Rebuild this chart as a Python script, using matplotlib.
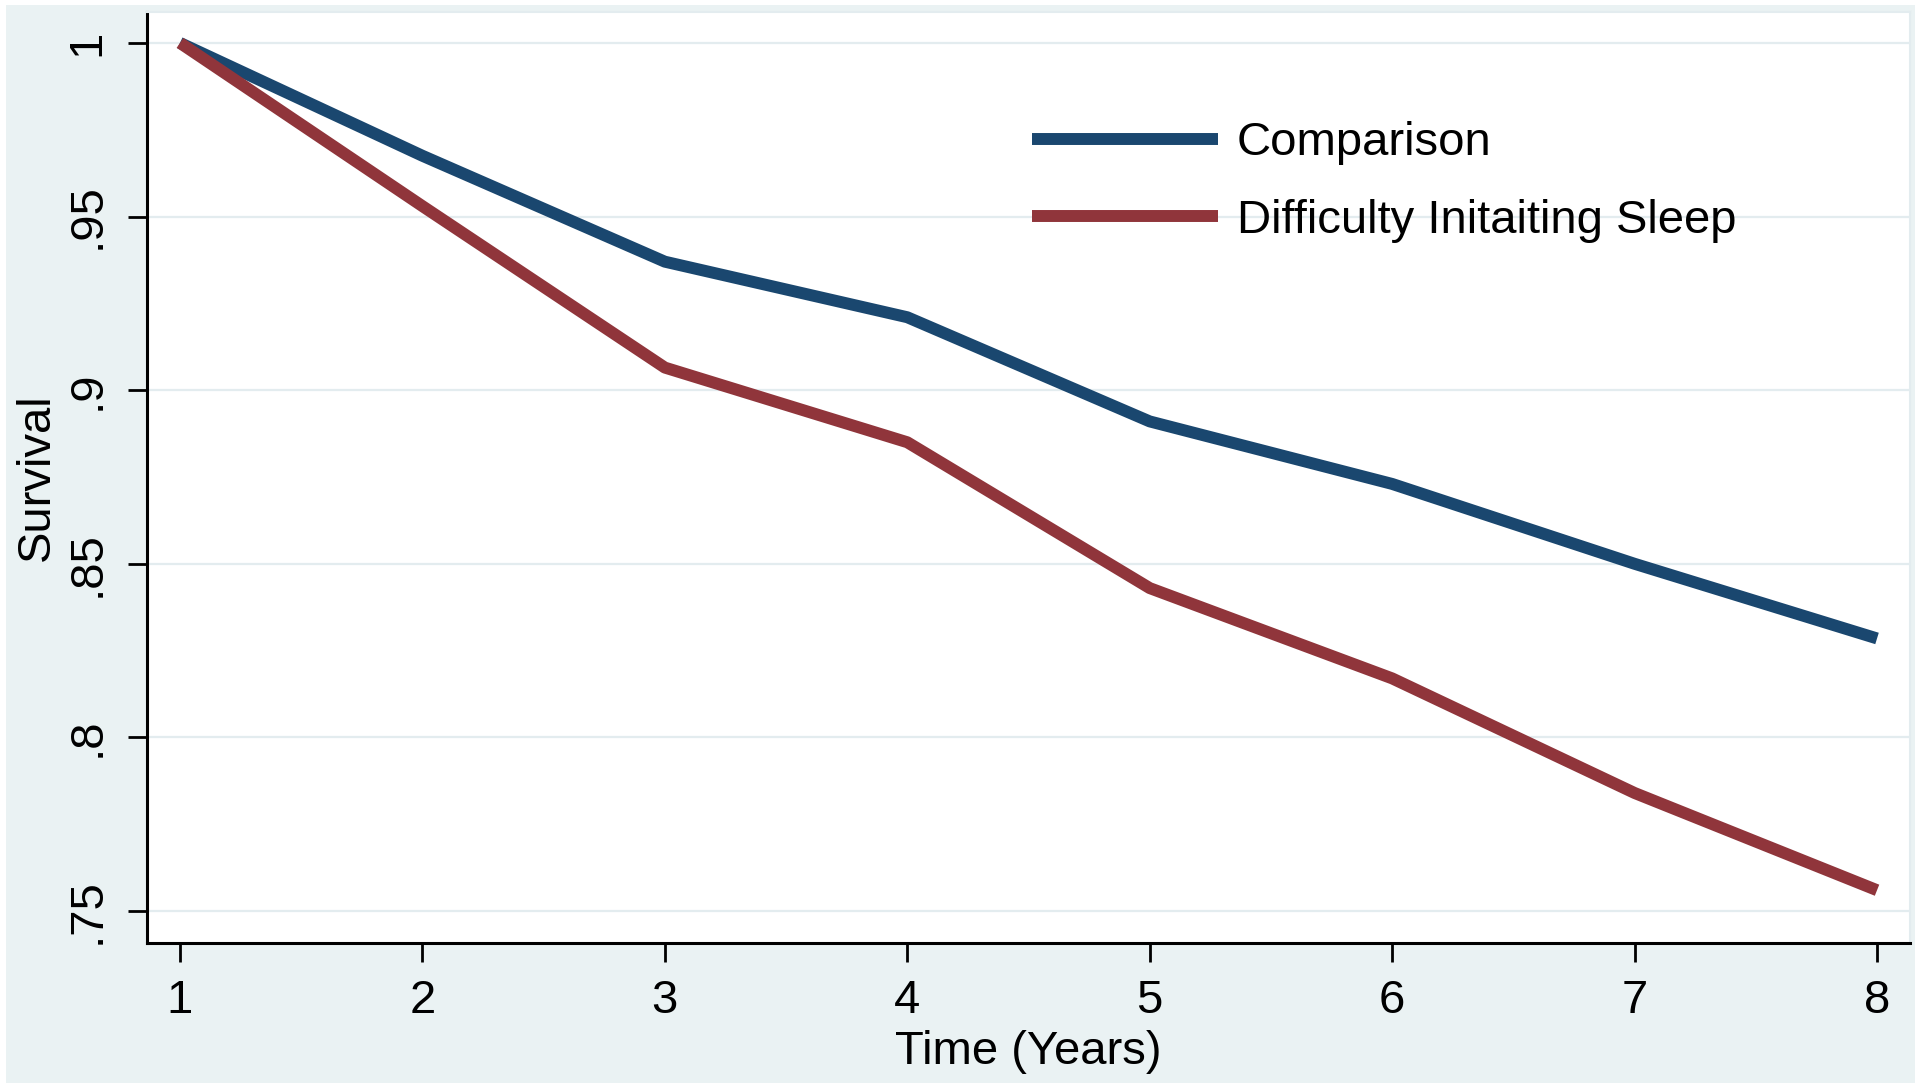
import matplotlib
matplotlib.use("Agg")
import matplotlib.pyplot as plt
from matplotlib.patches import Rectangle

years = [1, 2, 3, 4, 5, 6, 7, 8]
comparison = [1.0, 0.9675, 0.937, 0.921, 0.891, 0.873, 0.850, 0.8285]
difficulty = [1.0, 0.953, 0.9065, 0.885, 0.843, 0.817, 0.784, 0.756]
series_names = ["Comparison", "Difficulty Initaiting Sleep"]
y_ticks = [0.75, 0.80, 0.85, 0.90, 0.95, 1.0]
y_tick_labels = [".75", ".8", ".85", ".9", ".95", "1"]
x_ticks = [1, 2, 3, 4, 5, 6, 7, 8]
x_tick_labels = ["1", "2", "3", "4", "5", "6", "7", "8"]

W, H = 1920, 1090
BG = "#eaf2f3"
GRID = "#e3ecef"
NAVY = "#1a476f"
MAROON = "#90353b"

plt.rcParams["font.family"] = ["Liberation Sans", "DejaVu Sans"]

fig = plt.figure(figsize=(W / 100, H / 100), dpi=100, facecolor="white")
fig.patches.append(Rectangle((6 / W, 7 / H), (1915 - 6) / W, (1083 - 5) / H,
                             transform=fig.transFigure, facecolor=BG,
                             edgecolor="none", zorder=-10))

left, right, top, bottom = 147, 1910, 12, 943
ax = fig.add_axes([left / W, 1 - bottom / H, (right - left) / W, (bottom - top) / H])
ax.set_facecolor("white")
ax.set_zorder(1)

ax.plot(years, comparison, color=NAVY, lw=8.6, solid_capstyle="butt",
        solid_joinstyle="round", label=series_names[0], zorder=3)
ax.plot(years, difficulty, color=MAROON, lw=8.6, solid_capstyle="butt",
        solid_joinstyle="round", label=series_names[1], zorder=3)

ax.set_xlim(0.864, 8.136)
ax.set_ylim(0.7408, 1.0089)

ax.set_yticks(y_ticks)
ax.set_yticklabels(y_tick_labels, rotation=90, va="center", fontsize=34)
ax.set_xticks(x_ticks)
ax.set_xticklabels(x_tick_labels, fontsize=34)

ax.yaxis.grid(True, color=GRID, lw=1.6, zorder=1)
ax.xaxis.grid(False)
ax.set_axisbelow(True)

ax.tick_params(axis="y", length=14, width=2, pad=13, color="black")
ax.tick_params(axis="x", length=14, width=2, pad=12, color="black")

for s in ["left", "bottom"]:
    ax.spines[s].set_color("black")
    ax.spines[s].set_linewidth(2.2)
for s in ["top", "right"]:
    ax.spines[s].set_color(GRID)
    ax.spines[s].set_linewidth(1.5)

ax.set_xlabel("Time (Years)", fontsize=34, labelpad=5)
ax.set_ylabel("Survival", fontsize=34, labelpad=5)

fs = 34
leg = ax.legend(loc="center left", bbox_to_anchor=(1032 / W, 1 - 182 / H),
                bbox_transform=fig.transFigure, frameon=False, fontsize=fs,
                handlelength=186 / (fs * 100 / 72), handletextpad=0.4,
                borderpad=0, borderaxespad=0, labelspacing=0.70)

fig.savefig("out.png", dpi=100, facecolor="white")
